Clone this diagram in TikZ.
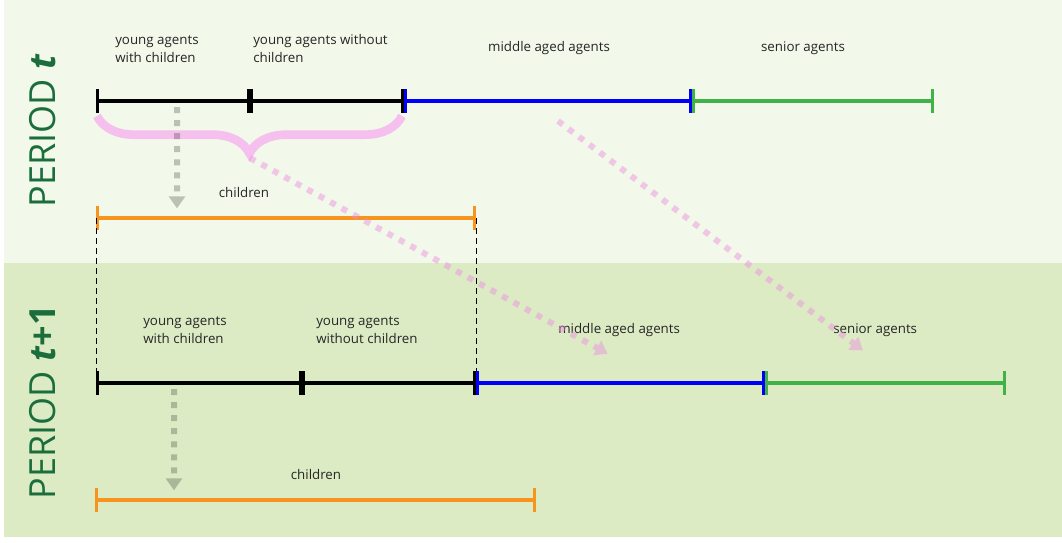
\documentclass[tikz,border=0pt]{standalone}
\usepackage{fontspec}
\setmainfont{Open Sans}
\usetikzlibrary{arrows.meta,decorations.pathreplacing}

\definecolor{bandtop}{RGB}{242,248,234}
\definecolor{bandbot}{RGB}{221,235,197}
\definecolor{pergreen}{RGB}{27,110,60}
\definecolor{segblue}{RGB}{0,0,250}
\definecolor{seggreen}{RGB}{64,178,72}
\definecolor{segorange}{RGB}{247,148,30}
\definecolor{flowpink}{RGB}{236,140,224}

\begin{document}
\begin{tikzpicture}[x=0.75pt,y=-0.75pt,
  seg/.style={line width=2.5pt,{Bar[width=18pt,length=0pt,line width=2.2pt]}-{Bar[width=18pt,length=0pt,line width=2.2pt]}},
  lbl/.style={font=\fontsize{10}{13.5}\selectfont,text=black!85,inner sep=0pt},
  period/.style={font=\fontsize{27}{30}\selectfont,text=pergreen,rotate=90},
  kidflow/.style={black,line width=4.5pt,dash pattern=on 4.5pt off 5.3pt,-{Triangle[length=9pt,width=12pt,sep=2pt]}},
  ageflow/.style={flowpink,line width=4.5pt,dash pattern=on 4.5pt off 5.3pt,-{Triangle[length=9pt,width=12pt,sep=2pt]}},
  braceline/.style={flowpink!55!white,line width=6.5pt,decorate,decoration={brace,mirror,amplitude=28pt}}]

\useasboundingbox (0,0) rectangle (1062,542);
\fill[bandtop] (4,0) rectangle (1062,263);
\fill[bandbot] (4,263) rectangle (1062,537);

\node[period] (pert) at (43,131) {PERIOD \textbf{\textit{t}}};
\node[period] (pertt) at (43,402) {PERIOD \textbf{\textit{t}+1}};

% period t
\coordinate (a0) at (96,101);
\coordinate (a1) at (250,101);
\coordinate (a2) at (404,101);
\coordinate (a3) at (692,101);
\coordinate (a4) at (934,101);
\coordinate (c0) at (96,218);
\coordinate (c1) at (476,218);

\draw[seg,black] (a0) -- (a1);
\draw[seg,black] (a1) -- (a2);
\draw[seg,segblue] (a2) -- (a3);
\draw[seg,seggreen] (a3) -- (a4);
\draw[seg,segorange] (c0) -- (c1);

\node[lbl,anchor=west,align=left] (ywc) at (115,49) {young agents\\with children};
\node[lbl,anchor=west,align=left] (ywo) at (253,49) {young agents without\\children};
\node[lbl] (mid) at (549,48) {middle aged agents};
\node[lbl] (sen) at (803,48) {senior agents};
\node[lbl] (kid) at (244,192) {children};

% period t+1
\coordinate (b0) at (96,383);
\coordinate (b1) at (302,383);
\coordinate (b2) at (476,383);
\coordinate (b3) at (765,383);
\coordinate (b4) at (1006,383);
\coordinate (d0) at (95,500);
\coordinate (d1) at (536,500);

\draw[dash pattern=on 4.5pt off 3pt,thin] (c0) -- (b0);
\draw[dash pattern=on 4.5pt off 3pt,thin] (c1) -- (b2);

\draw[seg,black] (b0) -- (b1);
\draw[seg,black] (b1) -- (b2);
\draw[seg,segblue] (b2) -- (b3);
\draw[seg,seggreen] (b3) -- (b4);
\draw[seg,segorange] (d0) -- (d1);

\node[lbl,anchor=west,align=left] (ywc2) at (143,330) {young agents\\with children};
\node[lbl,anchor=west,align=left] (ywo2) at (316,330) {young agents\\without children};
\node[lbl,anchor=west] (mid2) at (558,330) {middle aged agents};
\node[lbl,anchor=west] (sen2) at (833,330) {senior agents};
\node[lbl] (kid2) at (316,474) {children};

% flows
\draw[braceline] (97,116) -- (402,116);
\coordinate (tip) at (250,158);
\coordinate (midin) at (610,355);
\coordinate (midout) at (558,121);
\coordinate (senin) at (865,352);

\begin{scope}[transparency group,opacity=0.22]
\draw[kidflow] (177,107) -- (177,211);
\draw[kidflow] (174,389) -- (174,493);
\end{scope}
\begin{scope}[transparency group,opacity=0.45]
\draw[ageflow] (tip) -- (midin);
\draw[ageflow] (midout) -- (senin);
\end{scope}

\end{tikzpicture}
\end{document}
